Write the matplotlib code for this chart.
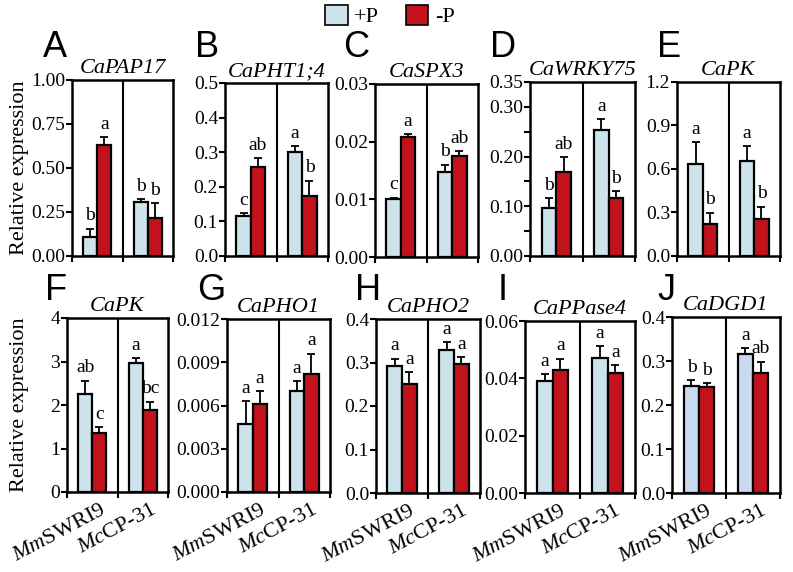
import matplotlib
matplotlib.use("Agg")
import matplotlib.pyplot as plt
import matplotlib.transforms as mtransforms
from matplotlib.patches import Patch
import numpy as np

plt.rcParams['font.family'] = ['Liberation Serif', 'DejaVu Serif']
plt.rcParams['mathtext.fontset'] = 'custom'
plt.rcParams['mathtext.rm'] = 'Liberation Serif'
plt.rcParams['mathtext.it'] = 'Liberation Serif:italic'

# ---------------- data ----------------
cultivars = [r"$\mathit{Mm}$SWRI9", r"$\mathit{Mc}$CP-31"]
conditions = ["+P", "-P"]
panel_letters = ["A", "B", "C", "D", "E", "F", "G", "H", "I", "J"]
genes = ["CaPAP17", "CaPHT1;4", "CaSPX3", "CaWRKY75", "CaPK",
         "CaPK", "CaPHO1", "CaPHO2", "CaPPase4", "CaDGD1"]

# means per cultivar: [MmSWRI9, McCP-31]
plus_p = [
    [0.11, 0.305], [0.115, 0.302], [0.0100, 0.0148], [0.097, 0.253], [0.635, 0.658],
    [2.25, 2.96], [0.0047, 0.0070], [0.291, 0.328], [0.0390, 0.0471], [0.244, 0.316],
]
plus_p_err = [
    [0.045, 0.018], [0.008, 0.016], [0.0003, 0.0012], [0.019, 0.022], [0.15, 0.10],
    [0.31, 0.12], [0.0016, 0.0007], [0.018, 0.019], [0.0024, 0.0042], [0.013, 0.013],
]
minus_p = [
    [0.631, 0.216], [0.258, 0.172], [0.0208, 0.0175], [0.169, 0.116], [0.224, 0.254],
    [1.36, 1.88], [0.0061, 0.0082], [0.251, 0.296], [0.0429, 0.0420], [0.240, 0.272],
]
minus_p_err = [
    [0.043, 0.085], [0.024, 0.046], [0.0005, 0.0008], [0.030, 0.015], [0.075, 0.085],
    [0.13, 0.20], [0.0009, 0.0014], [0.027, 0.016], [0.0040, 0.0027], [0.009, 0.026],
]
sig_plus = [["b", "b"], ["c", "a"], ["c", "b"], ["b", "a"], ["a", "a"],
            ["ab", "a"], ["a", "a"], ["a", "a"], ["a", "a"], ["b", "a"]]
sig_minus = [["a", "b"], ["ab", "b"], ["a", "ab"], ["ab", "b"], ["b", "b"],
             ["c", "bc"], ["a", "a"], ["a", "a"], ["a", "a"], ["b", "ab"]]

y_max = [1.0, 0.5, 0.03, 0.35, 1.2, 4, 0.012, 0.4, 0.06, 0.4]
y_ticks = [
    [0, 0.25, 0.5, 0.75, 1.0],
    [0, 0.1, 0.2, 0.3, 0.4, 0.5],
    [0, 0.01, 0.02, 0.03],
    [0, 0.05, 0.10, 0.15, 0.20, 0.25, 0.30, 0.35],
    [0, 0.3, 0.6, 0.9, 1.2],
    [0, 1, 2, 3, 4],
    [0, 0.003, 0.006, 0.009, 0.012],
    [0, 0.1, 0.2, 0.3, 0.4],
    [0, 0.02, 0.04, 0.06],
    [0, 0.1, 0.2, 0.3, 0.4],
]
y_ticklabels = [
    ["0.00", "0.25", "0.50", "0.75", "1.00"],
    ["0.0", "0.1", "0.2", "0.3", "0.4", "0.5"],
    ["0.00", "0.01", "0.02", "0.03"],
    ["0.00", "", "0.10", "", "0.20", "", "0.30", "0.35"],
    ["0.0", "0.3", "0.6", "0.9", "1.2"],
    ["0", "1", "2", "3", "4"],
    ["0.000", "0.003", "0.006", "0.009", "0.012"],
    ["0.0", "0.1", "0.2", "0.3", "0.4"],
    ["0.00", "0.02", "0.04", "0.06"],
    ["0.0", "0.1", "0.2", "0.3", "0.4"],
]

# ---------------- layout ----------------
W, H = 793, 572
fig = plt.figure(figsize=(W / 100, H / 100), dpi=100)

# pixel boxes (left, top, right, bottom)
boxes = [
    (72, 80, 173, 256), (225, 83, 328, 256), (375, 84, 478, 257), (530, 82, 635, 256), (677, 82, 780, 256),
    (67, 318, 168, 492), (227, 319, 330, 492), (376, 319, 480, 493), (525, 321, 635, 493), (672, 317, 780, 493),
]
letter_pos = [(43, 57), (195, 57), (343, 57), (490, 57), (657, 57),
              (45, 300), (197, 300), (355, 300), (498, 300), (657, 300)]

light = "#cde3ec"
light_j = "#c9daee"
red = "#c2121c"

centers = np.array([0.5, 1.5])
off = 0.14
bw = 0.28

for i in range(10):
    l, t, r, b = boxes[i]
    ax = fig.add_axes([l / W, 1 - b / H, (r - l) / W, (b - t) / H])
    lc = light_j if i == 9 else light
    zeros = [0, 0]
    ax.bar(centers - off, plus_p[i], bw, color=lc, edgecolor="black", linewidth=1.6, zorder=3,
           yerr=[zeros, plus_p_err[i]], error_kw=dict(ecolor="black", elinewidth=1.3, capsize=3, capthick=1.3))
    ax.bar(centers + off, minus_p[i], bw, color=red, edgecolor="black", linewidth=1.6, zorder=3,
           yerr=[zeros, minus_p_err[i]], error_kw=dict(ecolor="black", elinewidth=1.3, capsize=3, capthick=1.3))
    pad = y_max[i] * 0.025
    for k in range(2):
        ax.text(centers[k] - off, plus_p[i][k] + plus_p_err[i][k] + pad, sig_plus[i][k],
                ha="center", va="bottom", fontsize=14)
        ax.text(centers[k] + off, minus_p[i][k] + minus_p_err[i][k] + pad, sig_minus[i][k],
                ha="center", va="bottom", fontsize=14)
    ax.axvline(1.0, color="black", linewidth=1.5, zorder=2)
    ax.set_xlim(0, 2)
    ax.set_ylim(0, y_max[i])
    ax.set_yticks(y_ticks[i])
    ax.set_yticklabels(y_ticklabels[i], fontsize=14)
    ax.set_xticks([0, 1, 2])
    ax.set_xticklabels([])
    ax.tick_params(axis="both", direction="out", length=4, width=1.5, pad=1)
    for s in ax.spines.values():
        s.set_linewidth(1.8)
    ax.set_title(genes[i], fontsize=16, style="italic", pad=5, family="Liberation Serif")
    fig.text(letter_pos[i][0] / W, 1 - letter_pos[i][1] / H, panel_letters[i],
             fontsize=26, family="Liberation Sans", ha="left", va="baseline")
    if i >= 5:
        for k in range(2):
            tr = ax.get_xaxis_transform() + mtransforms.ScaledTranslation(14 / 100, -21 / 100, fig.dpi_scale_trans)
            ax.text(centers[k], 0, cultivars[k], transform=tr, rotation=28, ha="right", va="baseline",
                    rotation_mode="anchor", fontsize=16, family="Liberation Serif")

fig.text(20 / W, 1 - 168 / H, "Relative expression", rotation=90, ha="center", va="center", fontsize=16,
         family="Liberation Serif")
fig.text(20 / W, 1 - 405 / H, "Relative expression", rotation=90, ha="center", va="center", fontsize=16,
         family="Liberation Serif")

handles = [Patch(facecolor=light, edgecolor="black", linewidth=1.2, label=conditions[0]),
           Patch(facecolor=red, edgecolor="black", linewidth=1.2, label=conditions[1])]
fig.legend(handles=handles, loc="center", bbox_to_anchor=(390 / W, 1 - 16 / H), ncol=2, frameon=False,
           fontsize=16, handlelength=1.0, handleheight=1.0, handletextpad=0.3, columnspacing=1.2,
           borderpad=0)

fig.savefig("out.png", dpi=100)
